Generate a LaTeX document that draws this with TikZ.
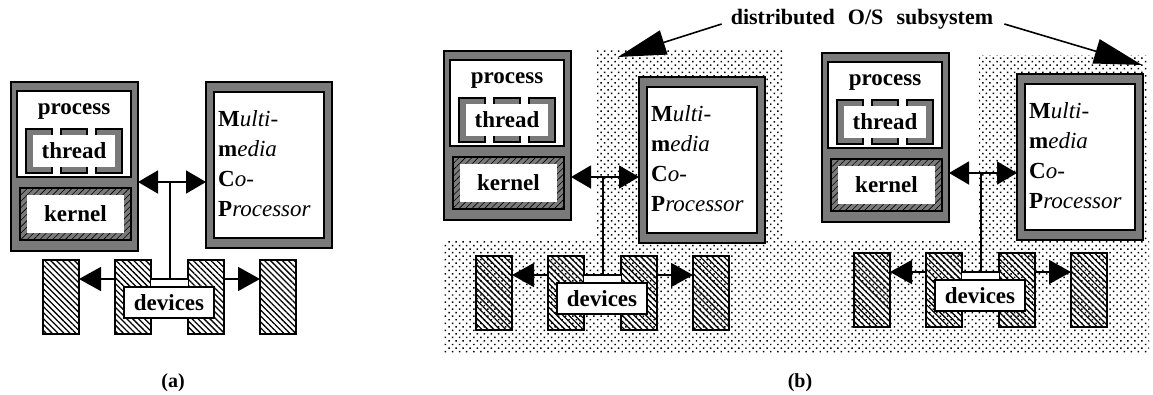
\documentclass[tikz,border=0pt]{standalone}
\usepackage{fontspec}
\setmainfont{Liberation Serif}
\usetikzlibrary{arrows.meta, patterns.meta, positioning}

\newcommand{\boxfont}{\fontsize{23}{27}\selectfont\bfseries}

\tikzset{
  grayframe/.style={draw, line width=1.5pt, fill=black!52, inner sep=0pt, outer sep=0pt},
  whitebox/.style={draw, line width=1.5pt, fill=white, inner sep=0pt, outer sep=0pt},
  blank/.style={fill=white, inner sep=0pt, outer sep=0pt},
  kernelbox/.style={draw, line width=1.5pt, pattern={Lines[angle=45,distance=4.5pt,line width=0.6pt]}, inner sep=0pt, outer sep=0pt},
  devbox/.style={draw, line width=1.5pt, pattern={Lines[angle=-45,distance=4.2pt,line width=1.3pt]}, inner sep=0pt, outer sep=0pt, minimum width=36, minimum height=74, anchor=north west},
  boxlabel/.style={font=\boxfont},
  mmline/.style={anchor=base west, inner sep=0pt, font=\fontsize{23}{27}\selectfont},
  tagfont/.style={font=\fontsize{22}{26}\selectfont\bfseries, inner sep=0pt},
  capfont/.style={font=\fontsize{20}{24}\selectfont\bfseries},
  dotzone/.style={pattern={Dots[distance=5pt,radius=1.05pt,angle=45]}},
  wire/.style={line width=1.6pt},
  linkarrow/.style={line width=1.6pt, >={Triangle[length=20pt,width=23pt]}, <->},
  devarrow/.style={line width=1.6pt, >={Triangle[length=22pt,width=24pt]}, ->},
  pointer/.style={line width=1.6pt, >={Triangle[length=48pt,width=25pt]}, ->},
  % #1 top of co-processor box, #2 height of link, #3 top of device row
  pics/osunit/.style n args={3}{code={
    \node[grayframe, minimum width=127, minimum height=169] (-host) at (63.5,84.5) {};
    \node[whitebox, minimum width=114, minimum height=86] (-proc) at (63,52) {};
    \node[boxlabel] (-proctext) at (63,29) {process};
    \node[grayframe, line width=1.3pt, minimum width=96, minimum height=44] (-thread) at (63,69) {};
    \node[blank, boxlabel, minimum width=82, minimum height=32] (-threadtext) at (-thread) {thread};
    \foreach \gx in {41,76} {
      \fill[white] (\gx,45.5) rectangle (\gx+9,53.5) (\gx,84.5) rectangle (\gx+9,92.5);
      \draw[line width=1.3pt] (\gx,46.4) -- (\gx,53) (\gx+9,46.4) -- (\gx+9,53)
        (\gx,85) -- (\gx,91.6) (\gx+9,85) -- (\gx+9,91.6);
    }
    \node[kernelbox, minimum width=111, minimum height=52] (-kernel) at (64.5,132) {};
    \node[blank, boxlabel, minimum width=97, minimum height=38] (-kerneltext) at (-kernel) {kernel};
    % co-processor
    \node[grayframe, minimum width=126, minimum height=166] (-mm) at (258,#1+83) {};
    \node[whitebox, minimum width=110, minimum height=146] (-mmpane) at (-mm) {};
    \foreach \txt [count=\k] in {{\textbf{M}\textit{ulti-}}, {\textbf{m}\textit{edia}},
        {\textbf{C}\textit{o-}}, {\textbf{P}\textit{rocessor}}}
      \node[mmline] (-mm\k) at (207,#1+14+30*\k) {\txt};
    % devices
    \foreach \dx [count=\k] in {32,104,177,249}
      \node[devbox] (-dev\k) at (\dx,#3) {};
    \fill[white] (140,#3+19) rectangle (177,#3+28);
    \coordinate (-tap) at (159,#2);
    \coordinate (-bustap) at (159,#3+19);
    \draw[linkarrow] ([yshift={-#2*1pt}]-host.north east) -- ([yshift={-(#2-#1)*1pt}]-mm.north west);
    \draw[wire] (-tap) -- (-bustap);
    \draw[devarrow] ([yshift=-19pt]-dev2.north west) -- ([yshift=-19pt]-dev1.north east);
    \draw[wire] ([yshift=-19pt]-dev2.north east) -- ([yshift=-19pt]-dev3.north west);
    \draw[devarrow] ([yshift=-19pt]-dev3.north east) -- ([yshift=-19pt]-dev4.north west);
    \node[whitebox, boxlabel, minimum width=90, minimum height=31] (-devices) at (158,#3+42.5) {devices};
  }}
}

\begin{document}
\begin{tikzpicture}[x=1pt, y=-1pt]
  \useasboundingbox (0,0) rectangle (1153,394);
  % distributed O/S zone
  \fill[dotzone] (443,240) rectangle (1149,353) (597,49) rectangle (783,240) (979,55) rectangle (1147,240);

  \pic (ua) at (11,82) {osunit={0}{100}{178}};
  \pic (ub) at (444,51) {osunit={26}{126}{205}};
  \pic (uc) at (822,53) {osunit={21}{120}{200}};

  \node[tagfont] (tag) at (862,19) {distributed\hspace{0.6em}O/S\hspace{0.6em}subsystem};
  \coordinate (tagleft) at (618,57);
  \coordinate (tagright) at (1142,65);
  \draw[pointer] ([xshift=-9pt,yshift=-5pt]tag.west) -- (tagleft);
  \draw[pointer] ([xshift=11pt,yshift=-5pt]tag.east) -- (tagright);

  \node[capfont] (capa) at (173,383) {(a)};
  \node[capfont] (capb) at (800,383) {(b)};
\end{tikzpicture}
\end{document}
